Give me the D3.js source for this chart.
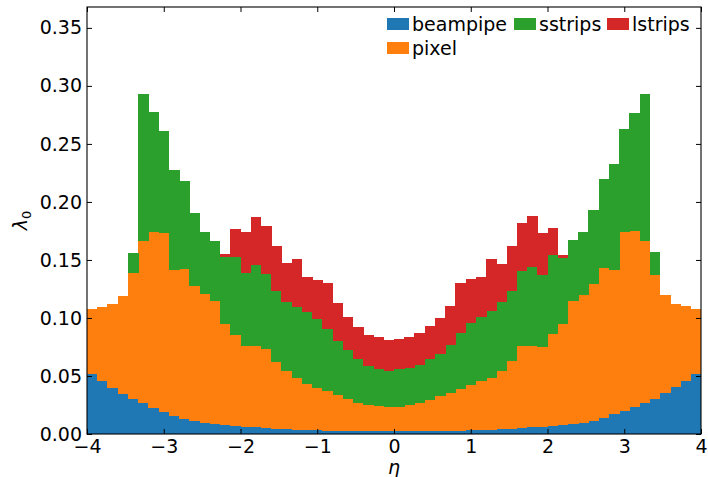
<!DOCTYPE html>
<html>
<head>
<meta charset="utf-8">
<script src="https://cdn.jsdelivr.net/npm/d3@7"></script>
<style>
  body { margin: 0; background: #fff; }
  svg { font-family: "DejaVu Sans", sans-serif; }
</style>
</head>
<body>
<div id="chartDiv"></div>
<script>

// 60 bins from eta = -4 to 4
const etaMin = -4, etaMax = 4, nBins = 60;

const beampipe = [
  0.0524, 0.0461, 0.0403, 0.0351, 0.0303, 0.0268, 0.0230, 0.0193, 0.0158, 0.0130,
  0.0115, 0.0100, 0.0090, 0.0080, 0.0070, 0.0065, 0.0060, 0.0055, 0.0050, 0.0045,
  0.0040, 0.0037, 0.0034, 0.0032, 0.0030, 0.0028, 0.0027, 0.0026, 0.0025, 0.0025,
  0.0025, 0.0025, 0.0026, 0.0027, 0.0028, 0.0030, 0.0032, 0.0034, 0.0037, 0.0040,
  0.0045, 0.0050, 0.0055, 0.0060, 0.0065, 0.0070, 0.0080, 0.0090, 0.0100, 0.0115,
  0.0138, 0.0173, 0.0202, 0.0236, 0.0273, 0.0308, 0.0355, 0.0409, 0.0461, 0.0524
];
const pixel = [
  0.0554, 0.0634, 0.0716, 0.0837, 0.1087, 0.1398, 0.1514, 0.1542, 0.1255, 0.1297,
  0.1162, 0.1110, 0.1063, 0.0870, 0.0790, 0.0699, 0.0698, 0.0680, 0.0570, 0.0503,
  0.0450, 0.0396, 0.0369, 0.0343, 0.0310, 0.0275, 0.0247, 0.0227, 0.0220, 0.0211,
  0.0214, 0.0228, 0.0242, 0.0267, 0.0303, 0.0330, 0.0358, 0.0392, 0.0424, 0.0450,
  0.0503, 0.0584, 0.0703, 0.0704, 0.0684, 0.0795, 0.0872, 0.1057, 0.1105, 0.1177,
  0.1298, 0.1240, 0.1542, 0.1517, 0.1393, 0.1070, 0.0847, 0.0710, 0.0640, 0.0551
];
const sstrips = [
  0, 0, 0, 0, 0.0167, 0.1260, 0.1030, 0.0880, 0.0865, 0.0756,
  0.0626, 0.0534, 0.0510, 0.0578, 0.0668, 0.0626, 0.0698, 0.0649, 0.0620, 0.0590,
  0.0610, 0.0619, 0.0592, 0.0533, 0.0467, 0.0424, 0.0375, 0.0338, 0.0317, 0.0312,
  0.0323, 0.0323, 0.0332, 0.0355, 0.0361, 0.0412, 0.0480, 0.0531, 0.0554, 0.0577,
  0.0590, 0.0606, 0.0649, 0.0683, 0.0629, 0.0677, 0.0570, 0.0525, 0.0539, 0.0640,
  0.0761, 0.0917, 0.0884, 0.1015, 0.1260, 0.0193, 0, 0, 0, 0
];
const lstrips = [
  0, 0, 0, 0, 0, 0, 0, 0, 0, 0,
  0, 0, 0, 0.0023, 0.0242, 0.0354, 0.0418, 0.0409, 0.0380, 0.0332,
  0.0405, 0.0298, 0.0331, 0.0395, 0.0323, 0.0282, 0.0273, 0.0259, 0.0274, 0.0259,
  0.0260, 0.0260, 0.0270, 0.0279, 0.0311, 0.0329, 0.0433, 0.0383, 0.0335, 0.0438,
  0.0327, 0.0380, 0.0410, 0.0433, 0.0352, 0.0231, 0.0020, 0, 0, 0,
  0, 0, 0, 0, 0, 0, 0, 0, 0, 0
];

const seriesNames = ['beampipe', 'pixel', 'sstrips', 'lstrips'];
const seriesColors = ['#1f77b4', '#ff7f0e', '#2ca02c', '#d62728'];
const xTicks = [-4, -3, -2, -1, 0, 1, 2, 3, 4];
const yTicks = [0, 0.05, 0.10, 0.15, 0.20, 0.25, 0.30, 0.35];

const W = 708, H = 477;
const margin = { left: 87, right: 7, top: 7, bottom: 43 };
const innerW = W - margin.left - margin.right;
const innerH = H - margin.top - margin.bottom;

const binW = (etaMax - etaMin) / nBins;
const rows = d3.range(nBins).map(i => ({
  x0: etaMin + i * binW,
  x1: etaMin + (i + 1) * binW,
  beampipe: beampipe[i], pixel: pixel[i], sstrips: sstrips[i], lstrips: lstrips[i]
}));

const svg = d3.select('#chartDiv').append('svg')
  .attr('width', W).attr('height', H);
const g = svg.append('g').attr('transform', `translate(${margin.left},${margin.top})`);

const x = d3.scaleLinear().domain([etaMin, etaMax]).range([0, innerW]);
const y = d3.scaleLinear().domain([0, 0.368]).range([innerH, 0]);
const color = d3.scaleOrdinal().domain(seriesNames).range(seriesColors);

const stacked = d3.stack().keys(seriesNames)(rows);

g.selectAll('g.layer')
  .data(stacked)
  .join('g')
  .attr('class', 'layer')
  .attr('fill', d => color(d.key))
  .selectAll('rect')
  .data(d => d.filter(s => s[1] > s[0]))
  .join('rect')
  .attr('x', d => x(d.data.x0))
  .attr('width', d => x(d.data.x1) - x(d.data.x0) + 0.4)
  .attr('y', d => y(d[1]))
  .attr('height', d => y(d[0]) - y(d[1]) + 0.4)
  .attr('shape-rendering', 'crispEdges');

// axes, ticks pointing inward on all four sides
const tickLen = 5;
const fmt = d3.format('.2f');
const minus = s => s.replace('-', '\u2212');

const xAxis = g.append('g').attr('transform', `translate(0,${innerH})`)
  .call(d3.axisBottom(x).tickValues(xTicks).tickSizeInner(-tickLen).tickSizeOuter(0)
    .tickPadding(6).tickFormat(d => minus(String(d))));
const yAxis = g.append('g')
  .call(d3.axisLeft(y).tickValues(yTicks).tickSizeInner(-tickLen).tickSizeOuter(0)
    .tickPadding(5).tickFormat(fmt));
const xTop = g.append('g')
  .call(d3.axisTop(x).tickValues(xTicks).tickSizeInner(-tickLen).tickSizeOuter(0).tickFormat(''));
const yRight = g.append('g').attr('transform', `translate(${innerW},0)`)
  .call(d3.axisRight(y).tickValues(yTicks).tickSizeInner(-tickLen).tickSizeOuter(0).tickFormat(''));

[xAxis, yAxis, xTop, yRight].forEach(a => {
  a.select('.domain').remove();
  a.selectAll('line').attr('stroke', '#000').attr('stroke-width', 1);
  a.selectAll('text').attr('font-size', 19).attr('fill', '#000')
    .attr('font-family', '"DejaVu Sans", sans-serif');
});

g.append('rect')
  .attr('width', innerW).attr('height', innerH)
  .attr('fill', 'none').attr('stroke', '#000').attr('stroke-width', 1.1);

// axis labels
svg.append('text')
  .attr('x', margin.left + innerW / 2).attr('y', H - 3)
  .attr('text-anchor', 'middle').attr('font-size', 19).attr('font-style', 'italic')
  .text('η');

const yl = svg.append('text')
  .attr('transform', `translate(27,${margin.top + innerH / 2}) rotate(-90)`)
  .attr('text-anchor', 'middle').attr('font-size', 19);
yl.append('tspan').attr('font-style', 'italic').text('λ');
yl.append('tspan').attr('font-size', 13).attr('dy', 4).text('0');

// legend, 3 columns filled column-wise
const legendCols = [[0, 1], [2], [3]];
const colX = [387, 514, 607];
const rowY = [24, 48];
const legend = svg.append('g');
legendCols.forEach((col, ci) => {
  col.forEach((si, ri) => {
    const item = legend.append('g').attr('transform', `translate(${colX[ci]},${rowY[ri]})`);
    item.append('rect').attr('x', 0).attr('y', -6).attr('width', 22).attr('height', 12)
      .attr('fill', seriesColors[si]);
    item.append('text').attr('x', 25).attr('y', 0).attr('dy', '0.35em')
      .attr('font-size', 19).text(seriesNames[si]);
  });
});

</script>
</body>
</html>
